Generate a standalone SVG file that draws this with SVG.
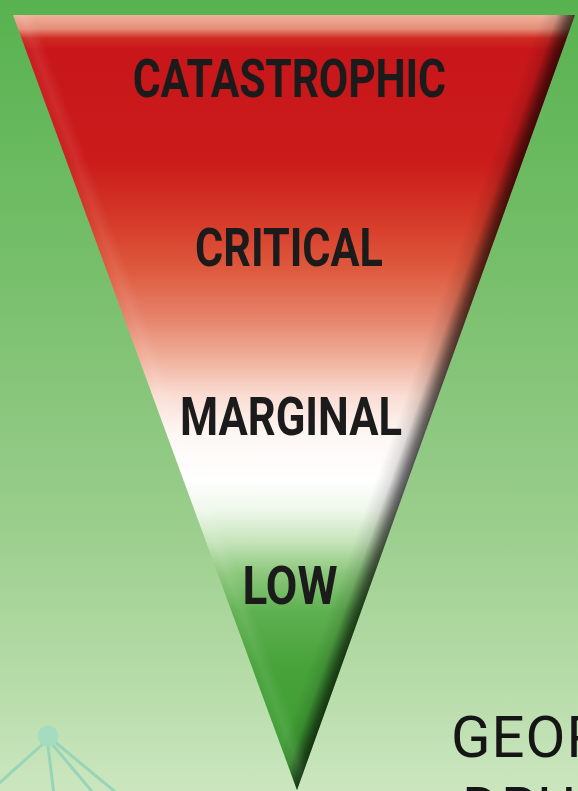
<svg xmlns="http://www.w3.org/2000/svg" width="578" height="791" viewBox="0 0 578 791">
  <defs>
    <linearGradient id="bg" x1="0" y1="0" x2="0" y2="791" gradientUnits="userSpaceOnUse">
      <stop offset="0" stop-color="#57b24f"/>
      <stop offset="0.35" stop-color="#78bf6c"/>
      <stop offset="0.65" stop-color="#99cd8b"/>
      <stop offset="0.85" stop-color="#b5dba7"/>
      <stop offset="1" stop-color="#cbe6bf"/>
    </linearGradient>
    <linearGradient id="tri" x1="0" y1="15" x2="0" y2="790" gradientUnits="userSpaceOnUse">
      <stop offset="0" stop-color="#eeb29c"/>
      <stop offset="0.018" stop-color="#e58d78"/>
      <stop offset="0.03" stop-color="#cf2a22"/>
      <stop offset="0.045" stop-color="#c8161a"/>
      <stop offset="0.19" stop-color="#cb1c1b"/>
      <stop offset="0.27" stop-color="#d63c2a"/>
      <stop offset="0.33" stop-color="#de5b3f"/>
      <stop offset="0.39" stop-color="#e6826a"/>
      <stop offset="0.44" stop-color="#efad98"/>
      <stop offset="0.49" stop-color="#fadcd2"/>
      <stop offset="0.54" stop-color="#fdf7f4"/>
      <stop offset="0.6" stop-color="#ffffff"/>
      <stop offset="0.64" stop-color="#eef7ea"/>
      <stop offset="0.68" stop-color="#c5e4ba"/>
      <stop offset="0.72" stop-color="#8cc77c"/>
      <stop offset="0.77" stop-color="#5fb050"/>
      <stop offset="0.84" stop-color="#47a33a"/>
      <stop offset="1" stop-color="#3a9a30"/>
    </linearGradient>
    <linearGradient id="rshade" gradientUnits="userSpaceOnUse" x1="545.6" y1="4.5" x2="575" y2="15">
      <stop offset="0" stop-color="#000" stop-opacity="0"/>
      <stop offset="0.45" stop-color="#000" stop-opacity="0.12"/>
      <stop offset="0.8" stop-color="#000" stop-opacity="0.55"/>
      <stop offset="1" stop-color="#000" stop-opacity="0.7"/>
    </linearGradient>
    <linearGradient id="lshade" gradientUnits="userSpaceOnUse" x1="13" y1="15" x2="31.8" y2="8.1">
      <stop offset="0" stop-color="#fff" stop-opacity="0.02"/>
      <stop offset="0.45" stop-color="#fff" stop-opacity="0.08"/>
      <stop offset="1" stop-color="#fff" stop-opacity="0"/>
    </linearGradient>
    <clipPath id="triclip">
      <polygon points="13,15 575,15 297,790"/>
    </clipPath>
    <style>
      .lbl { font-family: Roboto, "Liberation Sans", sans-serif; font-weight: 700; font-size: 54px; fill: #1b1b1b; text-anchor: middle; }
      .title { font-family: Roboto, "Liberation Sans", sans-serif; font-weight: 400; font-size: 58px; fill: #151515; letter-spacing: 1px; }
      .net { stroke: #98d5b8; stroke-width: 3; fill: none; stroke-linecap: round; }
    </style>
  </defs>

  <rect id="background" x="0" y="0" width="578" height="791" fill="url(#bg)"/>

  <g id="network-connectors">
    <line class="net" x1="44" y1="743" x2="-4" y2="786"/>
    <line class="net" x1="48" y1="746" x2="54" y2="795"/>
    <line class="net" x1="52" y1="744" x2="95" y2="795"/>
    <line class="net" x1="55" y1="742" x2="119" y2="795"/>
  </g>
  <g id="network-node">
    <circle cx="48" cy="736" r="10.5" fill="#a5dcc1"/>
  </g>

  <g id="severity-triangle">
    <polygon points="13,15 575,15 297,790" fill="url(#tri)"/>
    <g clip-path="url(#triclip)">
      <rect x="0" y="0" width="578" height="791" fill="url(#rshade)"/>
      <rect x="0" y="0" width="578" height="791" fill="url(#lshade)"/>
    </g>
  </g>

  <g id="label-catastrophic">
    <text class="lbl" x="289" y="97" textLength="313" lengthAdjust="spacingAndGlyphs">CATASTROPHIC</text>
  </g>
  <g id="label-critical">
    <text class="lbl" x="289" y="266" textLength="188" lengthAdjust="spacingAndGlyphs">CRITICAL</text>
  </g>
  <g id="label-marginal">
    <text class="lbl" x="291" y="435" textLength="222" lengthAdjust="spacingAndGlyphs">MARGINAL</text>
  </g>
  <g id="label-low">
    <text class="lbl" x="290" y="604" textLength="95" lengthAdjust="spacingAndGlyphs">LOW</text>
  </g>

  <g id="title">
    <text class="title" x="451" y="757">GEOR</text>
    <text class="title" x="462" y="828">DRUG</text>
  </g>
</svg>
